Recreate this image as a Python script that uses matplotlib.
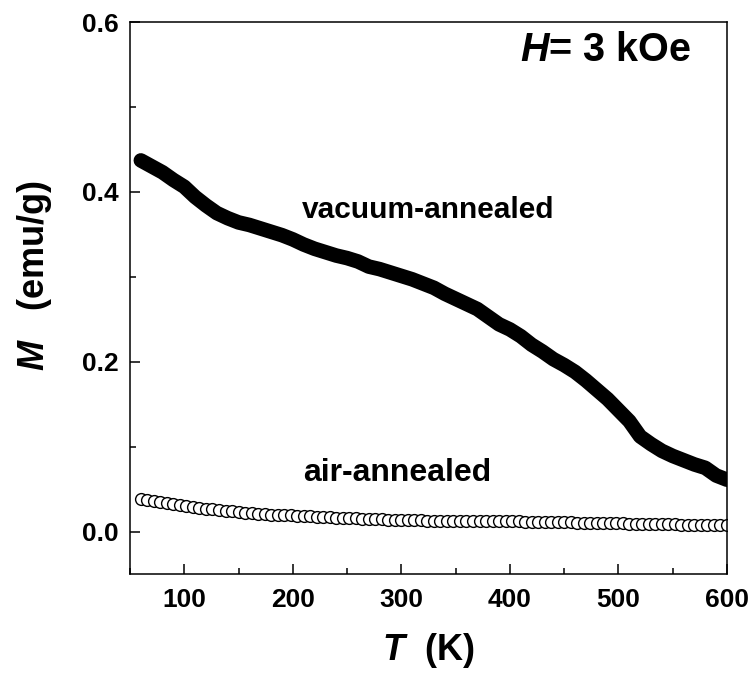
import matplotlib
matplotlib.use('Agg')
import matplotlib.pyplot as plt
import numpy as np

plt.rcParams['font.family'] = ['Liberation Sans', 'DejaVu Sans']
plt.rcParams['mathtext.fontset'] = 'custom'
plt.rcParams['mathtext.it'] = 'Liberation Sans:italic:bold'
plt.rcParams['mathtext.rm'] = 'Liberation Sans:bold'

# vacuum-annealed sample
T_vac = [60, 70, 80, 90, 100, 110, 120, 130, 140, 150,
         160, 170, 180, 190, 200, 210, 220, 230, 240, 250,
         260, 270, 280, 290, 300, 310, 320, 330, 340, 350,
         360, 370, 380, 390, 400, 410, 420, 430, 440, 450,
         460, 470, 480, 490, 500, 510, 520, 530, 540, 550,
         560, 570, 580, 590, 600]
M_vac = [0.437, 0.430, 0.423, 0.414, 0.406, 0.394, 0.384, 0.375, 0.369, 0.364,
         0.361, 0.357, 0.353, 0.349, 0.344, 0.338, 0.333, 0.329, 0.325, 0.322,
         0.318, 0.312, 0.309, 0.305, 0.301, 0.297, 0.292, 0.287, 0.280, 0.274,
         0.268, 0.262, 0.253, 0.244, 0.238, 0.230, 0.220, 0.212, 0.203, 0.196,
         0.188, 0.178, 0.167, 0.156, 0.143, 0.130, 0.112, 0.103, 0.095, 0.089,
         0.084, 0.079, 0.075, 0.066, 0.061]

# air-annealed sample
T_air = list(range(60, 601, 6))
M_air = [0.038, 0.037, 0.036, 0.035, 0.034, 0.033, 0.031, 0.030, 0.029, 0.028,
         0.027, 0.026, 0.025, 0.024, 0.024, 0.023, 0.022, 0.022, 0.021, 0.021,
         0.020, 0.020, 0.019, 0.019, 0.018, 0.018, 0.018, 0.017, 0.017, 0.017,
         0.016, 0.016, 0.016, 0.016, 0.015, 0.015, 0.015, 0.015, 0.014, 0.014,
         0.014, 0.014, 0.014, 0.014, 0.013, 0.013, 0.013, 0.013, 0.013, 0.013,
         0.013, 0.012, 0.012, 0.012, 0.012, 0.012, 0.012, 0.012, 0.012, 0.011,
         0.011, 0.011, 0.011, 0.011, 0.011, 0.011, 0.011, 0.010, 0.010, 0.010,
         0.010, 0.010, 0.010, 0.010, 0.010, 0.009, 0.009, 0.009, 0.009, 0.009,
         0.009, 0.009, 0.009, 0.008, 0.008, 0.008, 0.008, 0.008, 0.008, 0.008,
         0.008]

x_ticks = [100, 200, 300, 400, 500, 600]
y_ticks = [0.0, 0.2, 0.4, 0.6]
y_ticklabels = ['0.0', '0.2', '0.4', '0.6']

fig = plt.figure(figsize=(7.54, 6.73), dpi=100)
ax = fig.add_axes([0.1724, 0.1471, 0.7918, 0.8202])

ax.plot(T_vac, M_vac, color='black', lw=10.5, solid_capstyle='round',
        solid_joinstyle='round')
ax.plot(T_air, M_air, ls='none', marker='o', ms=8.5, mfc='white',
        mec='black', mew=1.0)

ax.set_xlim(50, 600)
ax.set_ylim(-0.05, 0.6)
ax.set_xticks(x_ticks)
ax.set_yticks(y_ticks)
ax.set_xticks(np.arange(50, 601, 50), minor=True)
ax.set_yticks(np.arange(0.0, 0.61, 0.1), minor=True)
ax.set_yticklabels(y_ticklabels)

ax.tick_params(which='both', direction='in', top=False, right=False,
               width=1.1)
ax.tick_params(which='major', length=7, labelsize=19)
ax.tick_params(which='minor', length=4)
ax.tick_params(axis='x', pad=10)
ax.tick_params(axis='y', pad=8)
for lab in ax.get_xticklabels() + ax.get_yticklabels():
    lab.set_fontweight('bold')
for sp in ax.spines.values():
    sp.set_linewidth(1.1)

ax.set_xlabel(r'$T$  (K)', fontsize=26, fontweight='bold', labelpad=14)
ax.set_ylabel(r'$M$   (emu/g)', fontsize=26, fontweight='bold')
ax.yaxis.set_label_coords(-0.128, 0.54)

ax.text(0.50, 0.66, 'vacuum-annealed', transform=ax.transAxes,
        fontsize=21.5, fontweight='bold', va='center', ha='center')
ax.text(0.447, 0.183, 'air-annealed', transform=ax.transAxes,
        fontsize=23, fontweight='bold', va='center', ha='center')
ax.text(0.94, 0.95, r'$H$= 3 kOe', transform=ax.transAxes,
        fontsize=28.5, fontweight='bold', va='center', ha='right')

fig.savefig('out.png', dpi=100)
plt.close(fig)
